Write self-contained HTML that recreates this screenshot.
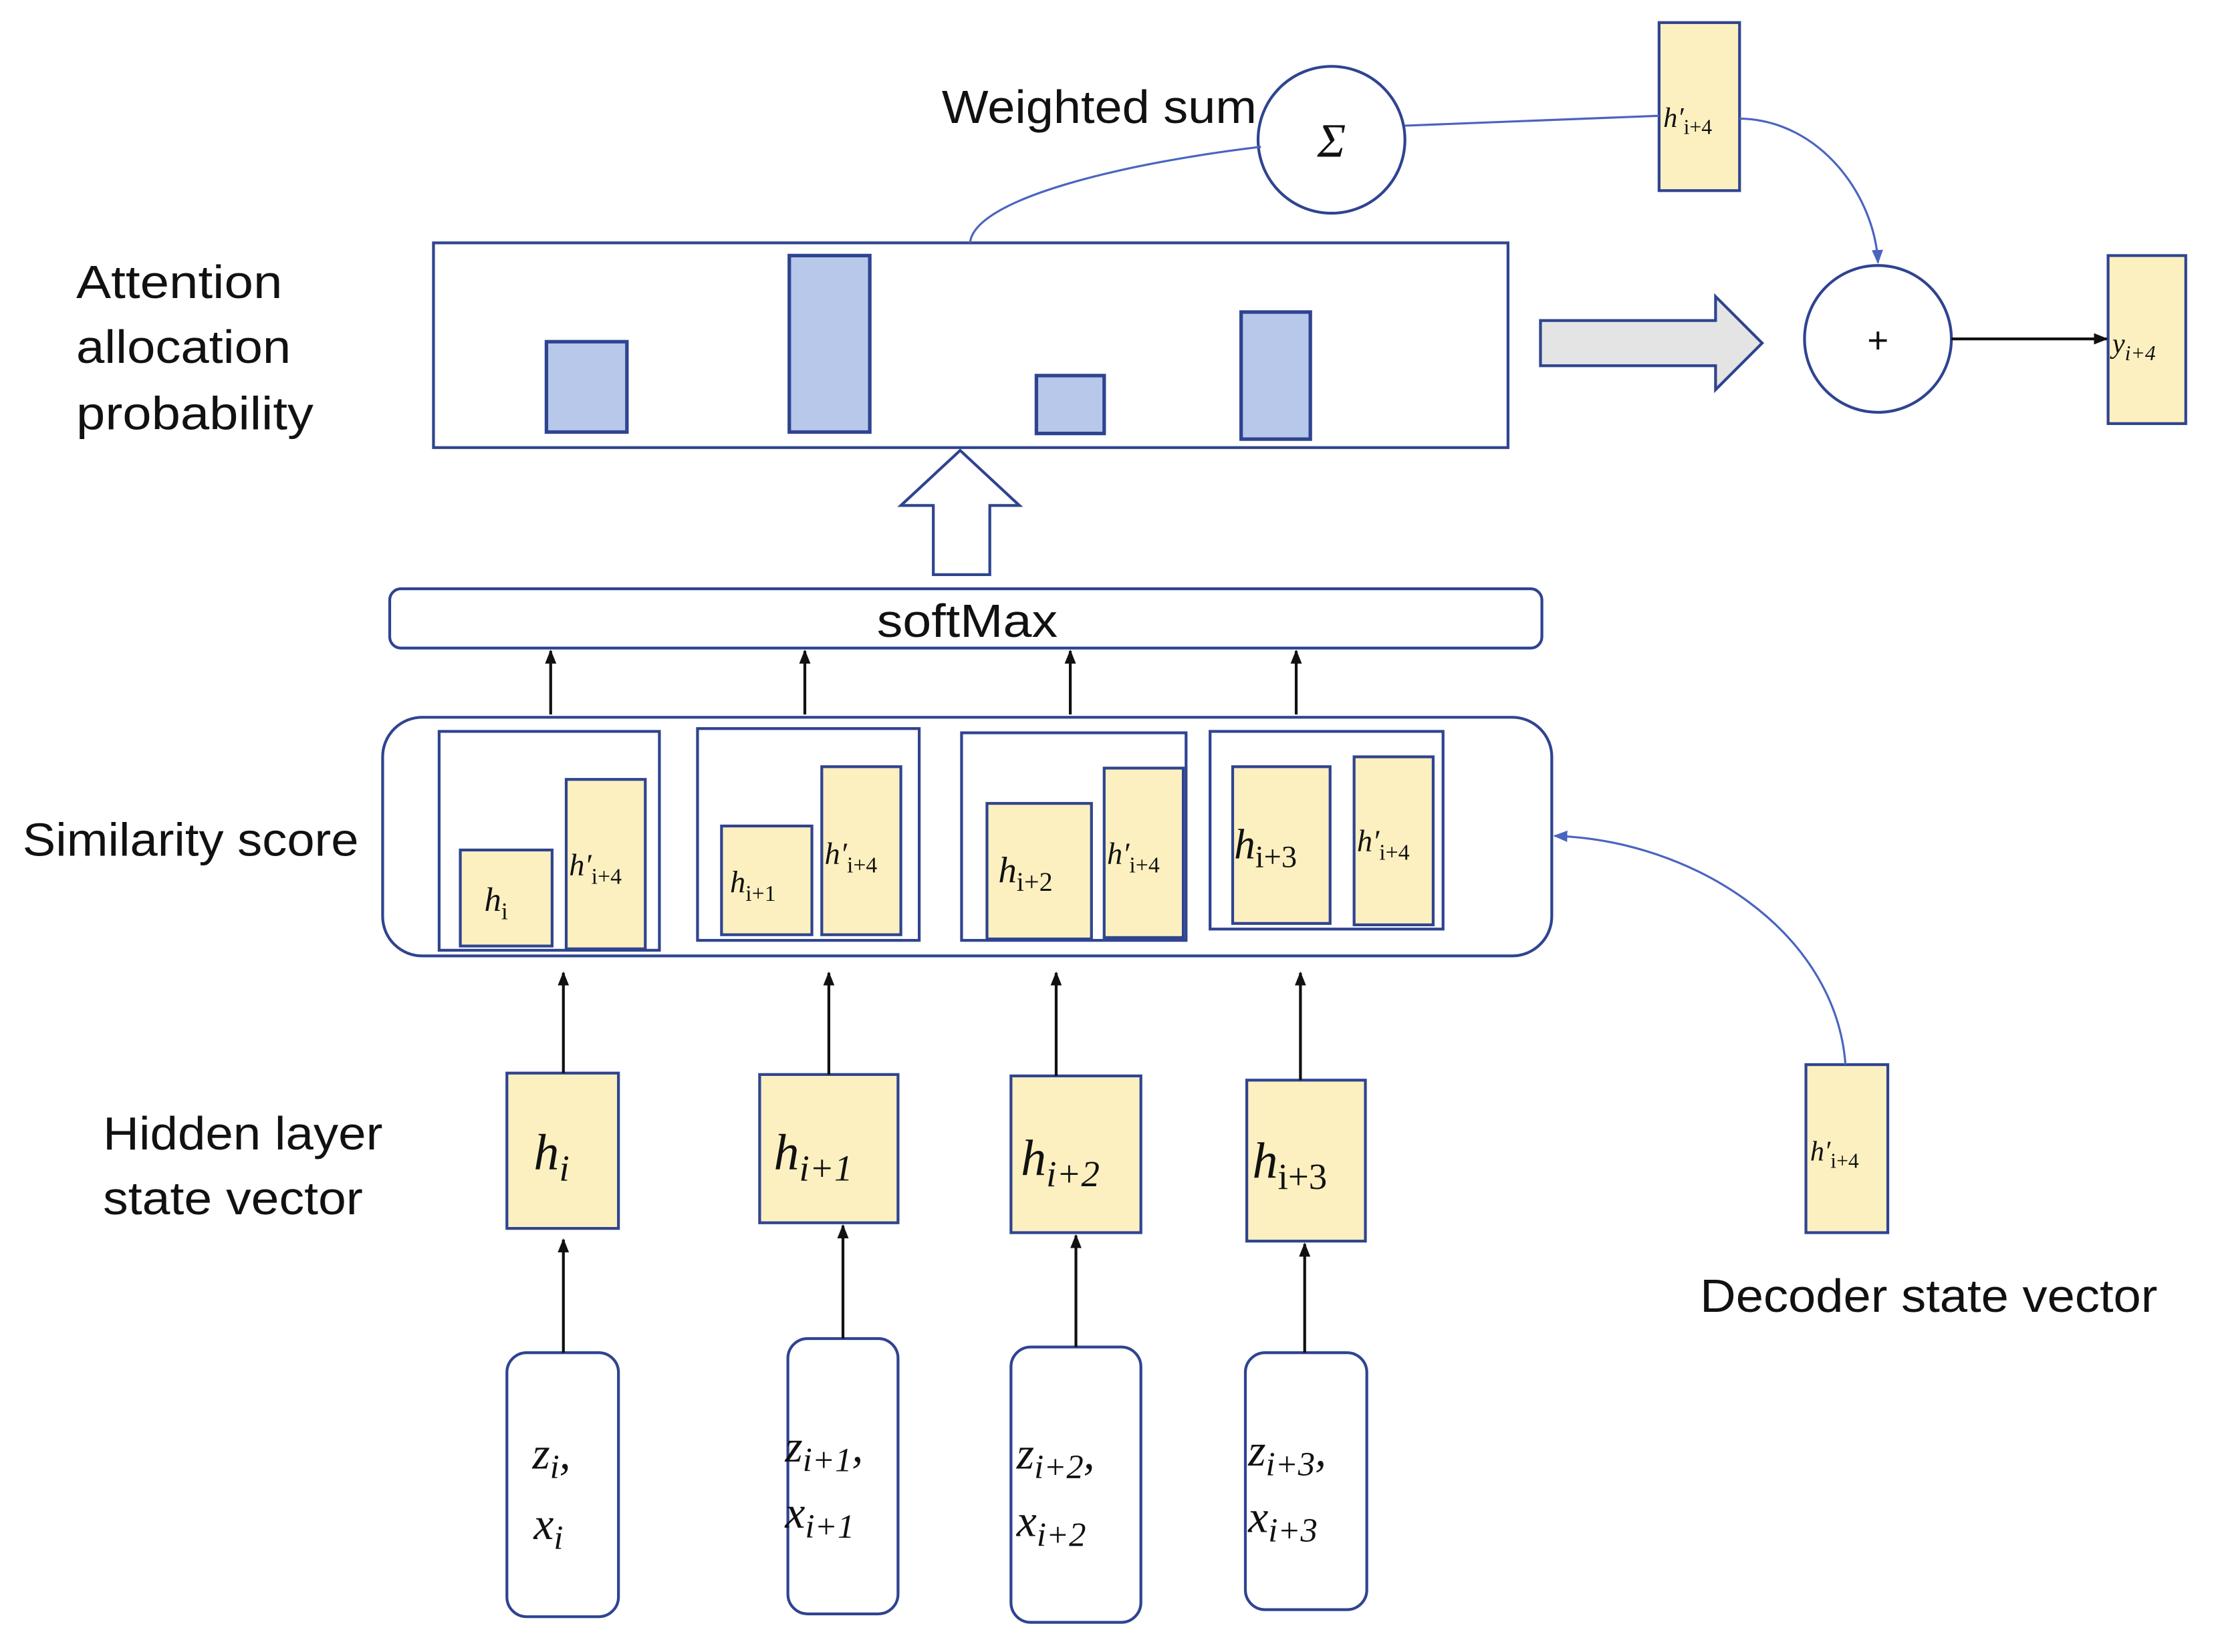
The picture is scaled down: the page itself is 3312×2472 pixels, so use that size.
<!DOCTYPE html>
<html><head><meta charset="utf-8"><style>
html,body{margin:0;padding:0;background:#fff;}
svg{display:block;}
.t{font-family:"Liberation Sans",sans-serif;fill:#111;}
.m{font-family:"Liberation Serif","DejaVu Serif",serif;font-style:italic;fill:#111;}
</style></head><body>
<svg width="3312" height="2472" viewBox="0 0 1568 1170" preserveAspectRatio="none" xmlns="http://www.w3.org/2000/svg">
<defs>
<marker id="ak" markerWidth="10" markerHeight="10" refX="9" refY="5" orient="auto" markerUnits="userSpaceOnUse"><path d="M0,1 L10,5 L0,9 z" fill="#111"/></marker>
<marker id="ab" markerWidth="10" markerHeight="10" refX="9" refY="5" orient="auto" markerUnits="userSpaceOnUse"><path d="M0,1 L10,5 L0,9 z" fill="#4a64c0"/></marker>
</defs>
<g stroke="#2f4490" stroke-width="2" fill="none">
<circle cx="943" cy="99" r="52" fill="#fff"/>
<rect x="1175" y="16" width="57" height="119" fill="#fdf0c0"/>
<circle cx="1330" cy="240" r="52" fill="#fff"/>
<rect x="1493" y="181" width="55" height="119" fill="#fdf0c0"/>
<rect x="307" y="172" width="761" height="145" fill="#fff"/>
<rect x="387" y="242" width="57" height="64" fill="#b8c8ea" stroke-width="2.5"/>
<rect x="559" y="181" width="57" height="125" fill="#b8c8ea" stroke-width="2.5"/>
<rect x="734" y="266" width="48" height="41" fill="#b8c8ea" stroke-width="2.5"/>
<rect x="879" y="221" width="49" height="90" fill="#b8c8ea" stroke-width="2.5"/>
<path d="M1091,227 H1215 V210 L1248,243 L1215,276 V259 H1091 Z" fill="#e4e4e4"/>
<path d="M680,319 L722,358 H701 V407 H661 V358 H638 Z" fill="#fff"/>
<rect x="276" y="417" width="816" height="42" rx="8" fill="#fff"/>
<rect x="271" y="508" width="828" height="169" rx="28" fill="#fff"/>
<rect x="311" y="518" width="156" height="155"/>
<rect x="494" y="516" width="157" height="150"/>
<rect x="681" y="519" width="159" height="147"/>
<rect x="857" y="518" width="165" height="140"/>
<g fill="#fdf0c0">
<rect x="326" y="602" width="65" height="68"/>
<rect x="401" y="552" width="56" height="120"/>
<rect x="511" y="585" width="64" height="77"/>
<rect x="582" y="543" width="56" height="119"/>
<rect x="699" y="569" width="74" height="96"/>
<rect x="782" y="544" width="56" height="120"/>
<rect x="873" y="543" width="69" height="111"/>
<rect x="959" y="536" width="56" height="119"/>
<rect x="359" y="760" width="79" height="110"/>
<rect x="538" y="761" width="98" height="105"/>
<rect x="716" y="762" width="92" height="111"/>
<rect x="883" y="765" width="84" height="114"/>
<rect x="1279" y="754" width="58" height="119"/>
</g>
<rect x="359" y="958" width="79" height="187" rx="14" fill="#fff"/>
<rect x="558" y="948" width="78" height="195" rx="14" fill="#fff"/>
<rect x="716" y="954" width="92" height="195" rx="14" fill="#fff"/>
<rect x="882" y="958" width="86" height="182" rx="14" fill="#fff"/>
</g>
<g stroke="#4a64c0" stroke-width="1.5" fill="none">
<path d="M995,89 L1175,82"/>
<path d="M893,104 C800,115 690,140 687,172"/>
<path d="M1232,84 C1290,85 1328,140 1330,186" marker-end="url(#ab)"/>
<path d="M1307,754 C1300,660 1200,595 1101,592" marker-end="url(#ab)"/>
</g>
<g stroke="#111" stroke-width="2" fill="none">
<path d="M1382,240 H1492" marker-end="url(#ak)"/>
<path d="M390,506 V461" marker-end="url(#ak)"/>
<path d="M570,506 V461" marker-end="url(#ak)"/>
<path d="M758,506 V461" marker-end="url(#ak)"/>
<path d="M918,506 V461" marker-end="url(#ak)"/>
<path d="M399,760 V689" marker-end="url(#ak)"/>
<path d="M587,761 V689" marker-end="url(#ak)"/>
<path d="M748,762 V689" marker-end="url(#ak)"/>
<path d="M921,765 V689" marker-end="url(#ak)"/>
<path d="M399,958 V878" marker-end="url(#ak)"/>
<path d="M597,948 V868" marker-end="url(#ak)"/>
<path d="M762,954 V875" marker-end="url(#ak)"/>
<path d="M924,958 V881" marker-end="url(#ak)"/>
</g>
<g class="t" font-size="33">
<text x="667" y="87" textLength="223" lengthAdjust="spacingAndGlyphs">Weighted sum</text>
<text x="54" y="211" textLength="146" lengthAdjust="spacingAndGlyphs">Attention</text>
<text x="54" y="257" textLength="152" lengthAdjust="spacingAndGlyphs">allocation</text>
<text x="54" y="304" textLength="168" lengthAdjust="spacingAndGlyphs">probability</text>
<text x="16" y="606" textLength="238" lengthAdjust="spacingAndGlyphs">Similarity score</text>
<text x="73" y="814" textLength="198" lengthAdjust="spacingAndGlyphs">Hidden layer</text>
<text x="73" y="860" textLength="184" lengthAdjust="spacingAndGlyphs">state vector</text>
<text x="1204" y="929" textLength="324" lengthAdjust="spacingAndGlyphs">Decoder state vector</text>
<text x="621" y="451" textLength="128" lengthAdjust="spacingAndGlyphs">softMax</text>
<text x="1330" y="250" text-anchor="middle" font-size="26">+</text>
</g>
<g class="m">
<text x="943" y="111" font-size="34" text-anchor="middle">Σ</text>
<text x="1178" y="90" font-size="20">h′<tspan font-style="normal" font-size="15" dy="5">i+4</tspan></text>
<text x="1496" y="250" font-size="20">y<tspan font-size="15" dy="5">i+4</tspan></text>
<text x="343" y="645" font-size="24">h<tspan font-style="normal" font-size="17" dy="6">i</tspan></text>
<text x="403" y="620" font-size="22">h′<tspan font-style="normal" font-size="16" dy="6">i+4</tspan></text>
<text x="517" y="632" font-size="22">h<tspan font-style="normal" font-size="16" dy="6">i+1</tspan></text>
<text x="584" y="612" font-size="22">h′<tspan font-style="normal" font-size="16" dy="6">i+4</tspan></text>
<text x="707" y="625" font-size="26">h<tspan font-style="normal" font-size="19" dy="6">i+2</tspan></text>
<text x="784" y="612" font-size="22">h′<tspan font-style="normal" font-size="16" dy="6">i+4</tspan></text>
<text x="874" y="608" font-size="30">h<tspan font-style="normal" font-size="22" dy="6">i+3</tspan></text>
<text x="961" y="603" font-size="22">h′<tspan font-style="normal" font-size="16" dy="6">i+4</tspan></text>
<text x="378" y="828" font-size="36">h<tspan font-size="26" dy="8">i</tspan></text>
<text x="548" y="828" font-size="36">h<tspan font-size="26" dy="8">i+1</tspan></text>
<text x="723" y="832" font-size="36">h<tspan font-size="26" dy="8">i+2</tspan></text>
<text x="887" y="834" font-size="36">h<tspan font-style="normal" font-size="26" dy="8">i+3</tspan></text>
<text x="1282" y="822" font-size="20">h′<tspan font-style="normal" font-size="15" dy="5">i+4</tspan></text>
<text x="377" y="1040" font-size="32">z<tspan font-size="24" dy="7">i</tspan><tspan dy="-7">,</tspan></text>
<text x="378" y="1090" font-size="32">x<tspan font-size="24" dy="7">i</tspan></text>
<text x="556" y="1035" font-size="32">z<tspan font-size="24" dy="7">i+1</tspan><tspan dy="-7">,</tspan></text>
<text x="556" y="1082" font-size="32">x<tspan font-size="24" dy="7">i+1</tspan></text>
<text x="720" y="1040" font-size="32">z<tspan font-size="24" dy="7">i+2</tspan><tspan dy="-7">,</tspan></text>
<text x="720" y="1088" font-size="32">x<tspan font-size="24" dy="7">i+2</tspan></text>
<text x="884" y="1038" font-size="32">z<tspan font-size="24" dy="7">i+3</tspan><tspan dy="-7">,</tspan></text>
<text x="884" y="1085" font-size="32">x<tspan font-size="24" dy="7">i+3</tspan></text>
</g>
</svg>
</body></html>
